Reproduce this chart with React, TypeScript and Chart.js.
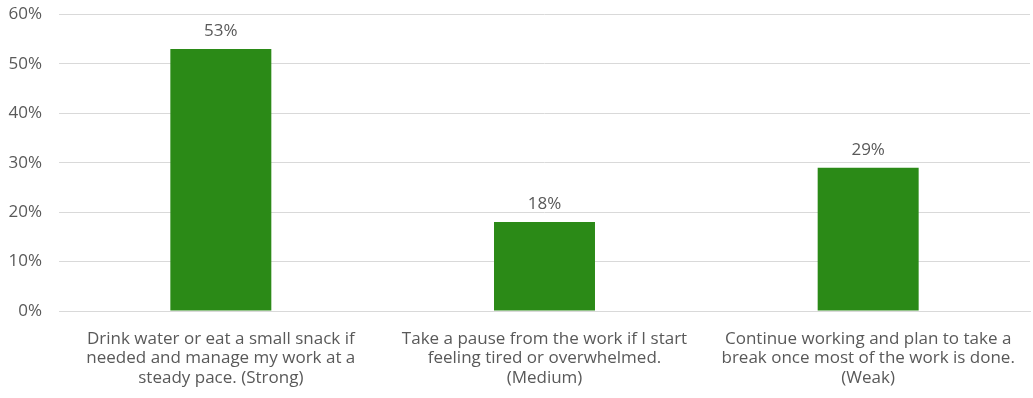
import React, { useEffect, useRef } from "react";
import { Chart, registerables } from "chart.js";

Chart.register(...registerables);

const categories: string[][] = [
  ["Drink water or eat a small snack if", "needed and manage my work at a", "steady pace. (Strong)"],
  ["Take a pause from the work if I start", "feeling tired or overwhelmed.", "(Medium)"],
  ["Continue working and plan to take a", "break once most of the work is done.", "(Weak)"],
];
const shares: number[] = [53, 18, 29];
const yTicks: number[] = [0, 10, 20, 30, 40, 50, 60];

const FONT = "'Open Sans', Lato, sans-serif";
const TEXT = "#595959";
const BAR = "#2B8A17";

const valueLabels = {
  id: "valueLabels",
  afterDatasetsDraw(chart: any) {
    const { ctx } = chart;
    const meta = chart.getDatasetMeta(0);
    ctx.save();
    ctx.font = `17px ${FONT}`;
    ctx.fillStyle = TEXT;
    ctx.textAlign = "center";
    ctx.textBaseline = "middle";
    meta.data.forEach((bar: any, i: number) => {
      ctx.fillText(`${shares[i]}%`, bar.x, bar.y - 18);
    });
    ctx.restore();
  },
};

export default function App() {
  const ref = useRef<HTMLCanvasElement | null>(null);

  useEffect(() => {
    if (!ref.current) return;
    const chart = new Chart(ref.current, {
      type: "bar",
      data: {
        labels: categories,
        datasets: [
          {
            data: shares,
            backgroundColor: BAR,
            borderWidth: 0,
            barPercentage: 1,
            categoryPercentage: 0.312,
          },
        ],
      },
      options: {
        animation: false,
        responsive: false,
        maintainAspectRatio: false,
        layout: { padding: { top: 14.5, right: 3, left: 0, bottom: 0 } },
        plugins: {
          legend: { display: false },
          tooltip: { enabled: false },
        },
        scales: {
          x: {
            grid: { display: false, drawTicks: false },
            border: { color: "#D9D9D9", width: 1 },
            ticks: {
              color: TEXT,
              font: { family: FONT, size: 17, lineHeight: 1.15 },
              padding: 18,
              maxRotation: 0,
              autoSkip: false,
            },
            afterFit(scale: any) {
              scale.height = 87;
              scale.paddingLeft = 0;
              scale.paddingRight = 0;
            },
          },
          y: {
            min: 0,
            max: 60,
            afterBuildTicks(scale: any) {
              scale.ticks = yTicks.map((v) => ({ value: v }));
            },
            grid: { color: "#D9D9D9", drawTicks: false },
            border: { display: false },
            ticks: {
              color: TEXT,
              font: { family: FONT, size: 17 },
              padding: 17,
              callback: (v: any) => `${v}%`,
            },
            afterFit(scale: any) {
              scale.width = 59;
              scale.paddingTop = 0;
              scale.paddingBottom = 0;
            },
          },
        },
      },
      plugins: [valueLabels],
    });
    return () => chart.destroy();
  }, []);

  return (
    <div style={{ position: "fixed", left: 0, top: 0, width: 1033, height: 398, background: "#fff" }}>
      <canvas ref={ref} width={1033} height={398} />
    </div>
  );
}
